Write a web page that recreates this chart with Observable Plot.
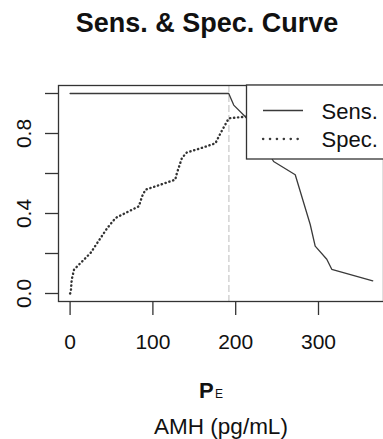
<!DOCTYPE html>
<html>
<head>
<meta charset="utf-8">
<script src="https://cdn.jsdelivr.net/npm/d3@7"></script>
<script src="https://cdn.jsdelivr.net/npm/@observablehq/plot@0.6"></script>
<style>
  html, body { margin: 0; padding: 0; background: #fff; }
  #chart svg { display: block; }
</style>
</head>
<body>
<div id="chart"></div>
<script>
// ---- data ----
const sensX = [0, 191.6, 197.6, 211.7, 230, 245.8, 271.9, 290, 296, 310, 316, 365.5];
const sensY = [1, 1, 0.942, 0.884, 0.77, 0.66, 0.594, 0.345, 0.237, 0.171, 0.121, 0.063];
const specX = [0, 0.8, 2, 4.8, 15, 25, 33, 45, 55, 71, 83, 87, 91, 109, 127, 129, 135, 141, 157.5, 175.5, 181.6, 191.6, 211.7, 250, 300, 365];
const specY = [0, 0.005, 0.07, 0.12, 0.162, 0.204, 0.254, 0.328, 0.378, 0.411, 0.436, 0.486, 0.519, 0.544, 0.569, 0.602, 0.677, 0.705, 0.726, 0.751, 0.801, 0.876, 0.884, 0.89, 0.95, 1.0];
const cutoff = [191.8];
const xTicks = [0, 100, 200, 300];
const yTicks = [0, 0.2, 0.4, 0.6, 0.8, 1.0];
const yTickLabels = ["0.0", "", "0.4", "", "0.8", ""];
const seriesNames = ["Sens.", "Spec."];
const titleText = "Sens. & Spec. Curve";
const xLabelMain = "P";
const xLabelSub = "E";
const xLabel2 = "AMH (pg/mL)";

const sens = sensX.map((x, i) => ({x, y: sensY[i]}));
const spec = specX.map((x, i) => ({x, y: specY[i]}));

const FONT = "'Liberation Sans', Arial, Helvetica, sans-serif";
const INK = "#333";

const plot = Plot.plot({
  width: 383,
  height: 439,
  marginLeft: 58,
  marginRight: 0,
  marginTop: 85,
  marginBottom: 138,
  style: {fontFamily: FONT, color: INK, background: "#fff"},
  x: {domain: [-14, 378.5]},
  y: {domain: [-0.04, 1.04]},
  marks: [
    Plot.ruleX(cutoff, {stroke: "#c8c8c8", strokeWidth: 1.2, strokeDasharray: "7,3"}),
    Plot.line(spec, {x: "x", y: "y", stroke: "#333", strokeWidth: 2.4, strokeDasharray: "0.3,3.7", strokeLinecap: "round"}),
    Plot.line(sens, {x: "x", y: "y", stroke: "#3a3a3a", strokeWidth: 1.3}),
    Plot.frame({stroke: INK, strokeWidth: 1.3}),
    Plot.axisX({ticks: xTicks, tickSize: 14, tickPadding: 19, fontSize: 21, tickFormat: d => String(d), label: null, stroke: INK, strokeWidth: 1.3, fill: "#111"}),
    Plot.axisY({ticks: yTicks, tickSize: 13, tickPadding: 15, tickRotate: -90, fontSize: 21, tickFormat: (d) => yTickLabels[yTicks.indexOf(d)], label: null, stroke: INK, strokeWidth: 1.3, fill: "#111"})
  ]
});

const svg = d3.select(plot);
// title
svg.append("text")
  .attr("x", 207).attr("y", 32)
  .attr("text-anchor", "middle")
  .attr("font-family", FONT).attr("font-weight", "bold").attr("font-size", 27)
  .attr("fill", "#111")
  .text(titleText);
// x label line 1 with subscript
const pe = svg.append("text")
  .attr("x", 211).attr("y", 398)
  .attr("text-anchor", "middle")
  .attr("font-family", FONT).attr("fill", "#111");
pe.append("tspan").attr("font-weight", "bold").attr("font-size", 22).text(xLabelMain);
pe.append("tspan").attr("font-size", 12).attr("dx", 1.5).text(xLabelSub);
// x label line 2
svg.append("text")
  .attr("x", 221).attr("y", 434)
  .attr("text-anchor", "middle")
  .attr("font-family", FONT).attr("font-size", 22.5).attr("fill", "#111")
  .text(xLabel2);

// legend
const lg = svg.append("g");
lg.append("rect")
  .attr("x", 246.5).attr("y", 85).attr("width", 140).attr("height", 74)
  .attr("fill", "#fff").attr("stroke", INK).attr("stroke-width", 1.3);
const dashes = [null, "0.3,6.6"];
const widths = [1.3, 2.3];
const rowsY = [110.5, 139];
seriesNames.forEach((name, i) => {
  lg.append("line")
    .attr("x1", 263).attr("x2", 303)
    .attr("y1", rowsY[i]).attr("y2", rowsY[i])
    .attr("stroke", "#3a3a3a").attr("stroke-width", widths[i])
    .attr("stroke-linecap", i === 1 ? "round" : "butt")
    .attr("stroke-dasharray", dashes[i]);
  lg.append("text")
    .attr("x", 321.5).attr("y", rowsY[i] + 8)
    .attr("text-anchor", "start")
    .attr("font-family", FONT).attr("font-size", 22).attr("fill", "#111")
    .text(name);
});

document.getElementById("chart").appendChild(plot);
</script>
</body>
</html>
